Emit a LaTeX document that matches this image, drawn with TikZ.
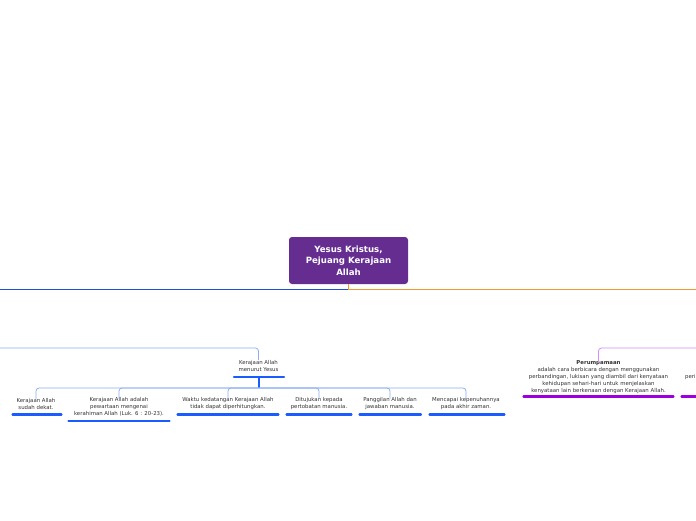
\documentclass[tikz,border=0pt]{standalone}
\usepackage{fontspec}
\setmainfont{DejaVu Sans}
\definecolor{cpurple}{HTML}{662D91}
\definecolor{dblue}{HTML}{1E4FDC}
\definecolor{corange}{HTML}{F29A2E}
\definecolor{lblue}{HTML}{8CAEF5}
\definecolor{ublue}{HTML}{1A5CFF}
\definecolor{lpurple}{HTML}{D38CFF}
\definecolor{upurple}{HTML}{9A00DD}
\definecolor{txt}{HTML}{333333}
\begin{document}
\begin{tikzpicture}[x=1pt,y=-1pt,
  central/.style={fill=cpurple, rounded corners=3pt, minimum width=119pt, minimum height=47pt,
    text=white, align=center, font=\bfseries\fontsize{8.6}{11.5}\selectfont, inner sep=0pt},
  leaf/.style={align=center, text=txt, font=\fontsize{5.4}{7}\selectfont, inner sep=0pt},
  conn/.style={lblue, line width=0.8pt, rounded corners=3pt},
  uline/.style={ublue, line width=2.2pt, line cap=round},
  pline/.style={upurple, line width=2.2pt, line cap=round}]
\useasboundingbox (0,0) rectangle (696,520);
\clip (0,0) rectangle (696,520);

\node[central] (root) at (348.5,260.5) {Yesus Kristus,\\Pejuang Kerajaan\\Allah};

\coordinate (mid) at (348,289);
\coordinate (leftend) at (0,289);
\coordinate (rightend) at (696,289);
\draw[corange, line width=0.8pt] (root.south -| mid) -- (mid);
\draw[dblue, line width=0.8pt] (mid) -- (leftend);
\draw[corange, line width=0.8pt] (mid) -- (rightend);

% left branch
\coordinate (lb) at (0,348);
\node[leaf] (k) at (258.5,366) {Kerajaan Allah\\menurut Yesus};
\draw[conn] (lb) -| (k.north);
\draw[uline] (234,377) -- (284,377);
\coordinate (hub) at (259,388);
\draw[ublue, line width=1.3pt] (259,377) -- (hub);

\node[leaf] (c1) at (36,403.5) {Kerajaan Allah\\sudah dekat.};
\node[leaf] (c2) at (119,407) {Kerajaan Allah adalah\\pewartaan mengenai\\kerahiman Allah (Luk. 6 : 20-23).};
\node[leaf] (c3) at (228,403.5) {Waktu kedatangan Kerajaan Allah\\tidak dapat diperhitungkan.};
\node[leaf] (c4) at (319,403.5) {Ditujukan kepada\\pertobatan manusia.};
\node[leaf] (c5) at (390,403.5) {Panggilan Allah dan\\jawaban manusia.};
\node[leaf] (c6) at (466,403.5) {Mencapai kepenuhannya\\pada akhir zaman.};
\foreach \c in {c1,c2,c3,c4,c5,c6}
  \draw[conn] (hub) -| ([yshift=-1.5pt]\c.north);

\draw[uline] (12.5,414.5) -- (61.5,414.5);
\draw[uline] (68.5,421) -- (169.5,421);
\draw[uline] (177.5,414.5) -- (278.5,414.5);
\draw[uline] (286.5,414.5) -- (351.5,414.5);
\draw[uline] (359.5,414.5) -- (421,414.5);
\draw[uline] (429.5,414.5) -- (504.5,414.5);

% right branch
\coordinate (rb) at (696,348);
\node[leaf] (p) at (598.5,377) {\textbf{Perumpamaan}\\adalah cara berbicara dengan menggunakan\\perbandingan, lukisan yang diambil dari kenyataan\\kehidupan sehari-hari untuk menjelaskan\\kenyataan lain berkenaan dengan Kerajaan Allah.};
\draw[conn, lpurple] (rb) -| ([yshift=-1.5pt]p.north);
\draw[pline] (523.5,396.5) -- (673.5,396.5);
\node[leaf, anchor=west] (q) at (685,377) {peri};
\draw[pline] (681.5,396.5) -- (700,396.5);
\end{tikzpicture}
\end{document}
